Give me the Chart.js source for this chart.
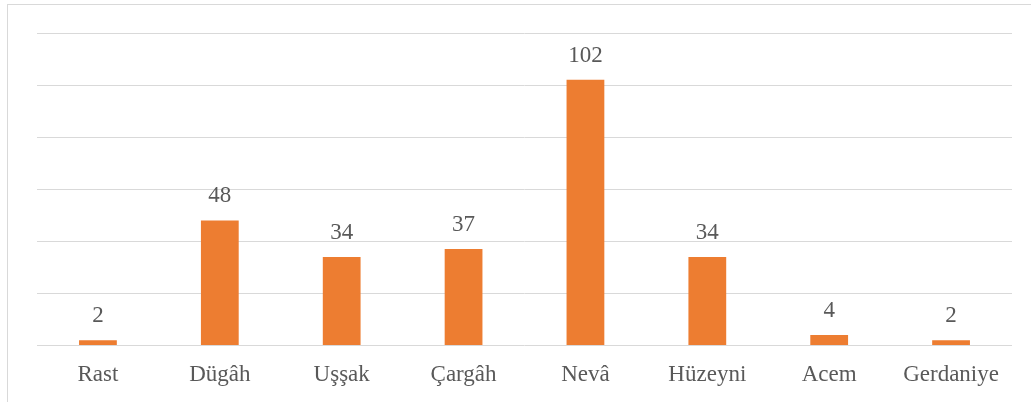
<!DOCTYPE html>
<html>
<head>
<meta charset="utf-8">
<script src="https://cdn.jsdelivr.net/npm/chart.js@4"></script>
<style>
  html, body { margin: 0; padding: 0; background: #fff; }
  #wrap { position: relative; width: 1031px; height: 402px; overflow: hidden; }
  #frame { position: absolute; left: 7px; top: 4px; right: -2px; bottom: -2px;
           border-left: 1px solid #D9D9D9; border-top: 1px solid #D9D9D9; }
  canvas { position: absolute; left: 0; top: 0; }
</style>
</head>
<body>
<div id="wrap">
  <div id="frame"></div>
  <canvas id="makamChart" width="1031" height="410"></canvas>
</div>
<script>
// Makam names and counts
const makams = ['Rast', 'Dügâh', 'Uşşak', 'Çargâh', 'Nevâ', 'Hüzeyni', 'Acem', 'Gerdaniye'];
const counts = [2, 48, 34, 37, 102, 34, 4, 2];
const yTicks = [0, 20, 40, 60, 80, 100, 120];

const textColor = '#595959';
const serif = '"Liberation Serif", "Times New Roman", serif';

// draw the value above each bar
const valueLabels = {
    id: 'valueLabels',
    afterDatasetsDraw(chart) {
        const ctx = chart.ctx;
        const meta = chart.getDatasetMeta(0);
        ctx.save();
        ctx.fillStyle = textColor;
        ctx.font = '23px ' + serif;
        ctx.textAlign = 'center';
        ctx.textBaseline = 'alphabetic';
        meta.data.forEach(function(bar, i) {
            ctx.fillText(String(counts[i]), bar.x, bar.y - 18);
        });
        ctx.restore();
    }
};

document.addEventListener('DOMContentLoaded', function() {
    const ctx = document.getElementById('makamChart').getContext('2d');
    new Chart(ctx, {
        type: 'bar',
        data: {
            labels: makams,
            datasets: [{
                data: counts,
                backgroundColor: '#ED7D31',
                borderWidth: 0,
                categoryPercentage: 1,
                barPercentage: 0.31
            }]
        },
        options: {
            responsive: false,
            animation: false,
            layout: { padding: { left: 37, top: 33, right: 19, bottom: 5 } },
            plugins: {
                legend: { display: false },
                tooltip: { enabled: false }
            },
            scales: {
                x: {
                    grid: { display: false, drawTicks: false },
                    border: { display: false },
                    ticks: {
                        color: textColor,
                        font: { family: serif, size: 23 },
                        padding: 16
                    }
                },
                y: {
                    min: yTicks[0],
                    max: yTicks[yTicks.length - 1],
                    afterBuildTicks: function(axis) {
                        axis.ticks = yTicks.map(v => ({ value: v }));
                    },
                    grid: { color: '#D9D9D9', lineWidth: 1, drawTicks: false },
                    border: { display: false },
                    ticks: { display: false }
                }
            }
        },
        plugins: [valueLabels]
    });
});
</script>
</body>
</html>
